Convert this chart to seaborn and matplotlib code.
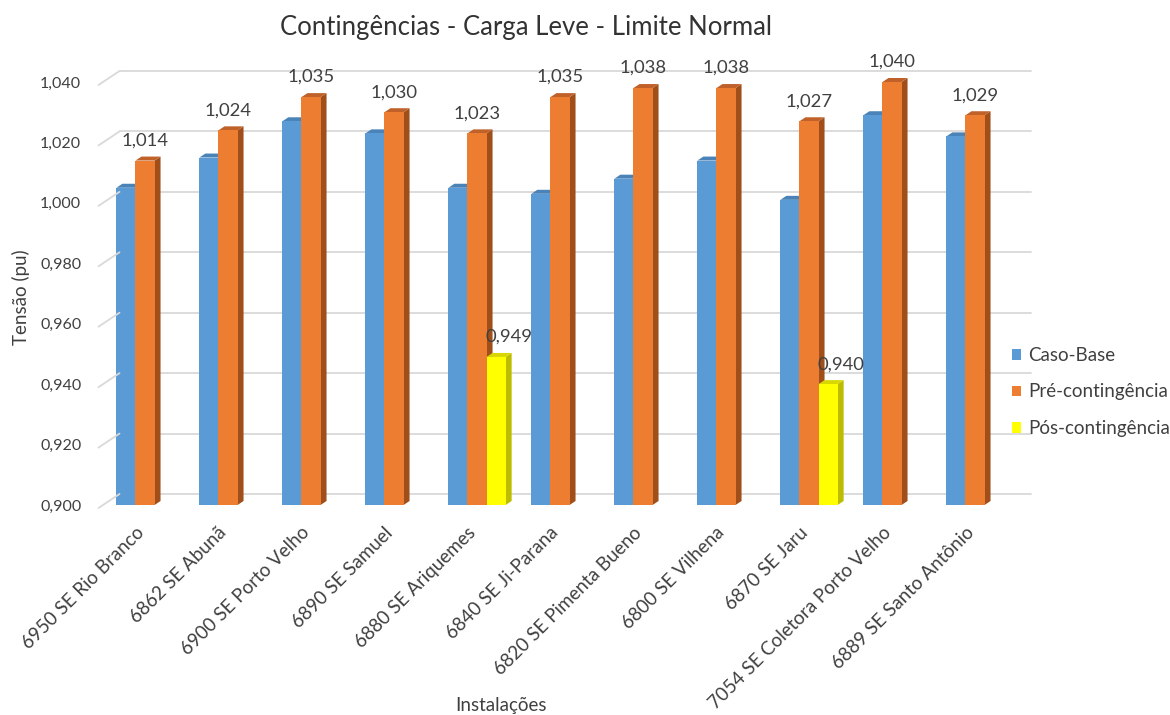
import matplotlib
matplotlib.use("Agg")
import matplotlib.pyplot as plt
from matplotlib.patches import Polygon
from matplotlib.transforms import offset_copy, ScaledTranslation
import seaborn as sns
import pandas as pd
import numpy as np

# Substations (x axis)
instalacoes = [
    "6950 SE Rio Branco", "6862 SE Abunã", "6900 SE Porto Velho",
    "6890 SE Samuel", "6880 SE Ariquemes", "6840 SE Ji-Parana",
    "6820 SE Pimenta Bueno", "6800 SE Vilhena", "6870 SE Jaru",
    "7054 SE Coletora Porto Velho", "6889 SE Santo Antônio",
]
# Voltage in pu for each case
caso_base = [1.005, 1.015, 1.027, 1.023, 1.005, 1.003, 1.008, 1.014, 1.001, 1.029, 1.022]
pre_cont = [1.014, 1.024, 1.035, 1.030, 1.023, 1.035, 1.038, 1.038, 1.027, 1.040, 1.029]
pos_cont = [None, None, None, None, 0.949, None, None, None, 0.940, None, None]

series = ["Caso-Base", "Pré-contingência", "Pós-contingência"]
y_ticks = [0.900, 0.920, 0.940, 0.960, 0.980, 1.000, 1.020, 1.040]

front_colors = ["#5B9BD5", "#ED7D31", "#FFFF00"]
side_colors = ["#41719C", "#A04F1A", "#BDBD00"]
top_colors = ["#4A83B8", "#C0612A", "#D8D800"]

rows = []
for name, a, b, c in zip(instalacoes, caso_base, pre_cont, pos_cont):
    rows.append((name, series[0], a))
    rows.append((name, series[1], b))
    rows.append((name, series[2], c if c is not None else np.nan))
df = pd.DataFrame(rows, columns=["Instalação", "Série", "Tensão"])

sns.set_theme(style="white")
plt.rcParams["font.family"] = ["Lato", "DejaVu Sans"]
text_color = "#404040"

W, H = 1170, 715
fig = plt.figure(figsize=(W / 100, H / 100), dpi=100)
ax = fig.add_axes([103.5 / W, 1 - 505 / H, 913 / W, (505 - 82) / H])

ymin, ymax = 0.900, 1.040

sns.barplot(data=df, x="Instalação", y="Tensão", hue="Série",
            hue_order=series, palette=front_colors, width=0.69,
            saturation=1.0, ax=ax, legend=True,
            edgecolor="none", linewidth=0)

ax.set_ylim(ymin, ymax)
ax.set_xlim(-0.5, len(instalacoes) - 0.5)

# pixel -> data conversions for the depth faces
px_x = len(instalacoes) / 913
px_y = (ymax - ymin) / (505 - 82)
dx, dy = 6 * px_x, 4 * px_y

for k, container in enumerate(ax.containers):
    for rect in container.patches:
        h = rect.get_height()
        if not np.isfinite(h) or h <= 0:
            continue
        x0 = rect.get_x()
        x1 = x0 + rect.get_width()
        y0 = ymin
        y1 = rect.get_y() + h
        z = 2 + k
        rect.set_zorder(z + 0.5)
        side = Polygon([(x1, y0), (x1, y1), (x1 + dx, y1 + dy), (x1 + dx, y0 + dy)],
                       closed=True, facecolor=side_colors[k], edgecolor="none",
                       zorder=z, clip_on=False)
        top = Polygon([(x0, y1), (x1, y1), (x1 + dx, y1 + dy), (x0 + dx, y1 + dy)],
                      closed=True, facecolor=top_colors[k], edgecolor="none",
                      zorder=z, clip_on=False)
        ax.add_patch(side)
        ax.add_patch(top)

# value labels on the contingency series
label_shift = {1: 0, 2: 13}
for k in (1, 2):
    for rect in ax.containers[k].patches:
        h = rect.get_height()
        if not np.isfinite(h) or h <= 0:
            continue
        v = rect.get_y() + h
        ax.text(rect.get_x() + rect.get_width() / 2 + label_shift[k] * px_x,
                v + 12 * px_y, f"{v:.3f}".replace(".", ","),
                ha="center", va="bottom", fontsize=13.3, color=text_color,
                zorder=10, clip_on=False)

# back-wall gridlines shifted by the chart depth, with floor diagonals
gx, gy = 16, 11
grid_trans = offset_copy(ax.get_yaxis_transform(), fig=fig, x=gx, y=gy, units="dots")
inv = fig.transFigure.inverted()
for t in y_ticks:
    ax.plot([0, 0.998], [t, t], transform=grid_trans, color="#D9D9D9",
            lw=1.3, zorder=0.5, clip_on=False)
    p0 = ax.get_yaxis_transform().transform((0, t)) + np.array([-5, -3])
    p1 = p0 + np.array([gx + 5, gy + 3])
    f0, f1 = inv.transform(p0), inv.transform(p1)
    fig.add_artist(plt.Line2D([f0[0], f1[0]], [f0[1], f1[1]], color="#D9D9D9", lw=1.3))

for s in ax.spines.values():
    s.set_visible(False)
ax.grid(False)

ax.set_yticks(y_ticks)
ax.set_yticklabels([f"{t:.3f}".replace(".", ",") for t in y_ticks],
                   fontsize=11.5, color=text_color)
ytick_shift = ScaledTranslation(0, -3 / 100, fig.dpi_scale_trans)
for lab in ax.get_yticklabels():
    lab.set_transform(lab.get_transform() + ytick_shift)
ax.tick_params(axis="y", length=0, pad=16)
ax.tick_params(axis="x", length=0, pad=18)
ax.set_xticks(range(len(instalacoes)))
ax.set_xticklabels(instalacoes, rotation=45, ha="right", va="center",
                   rotation_mode="anchor", fontsize=13.5, color=text_color)
shift = ScaledTranslation(-4 / 100, 0, fig.dpi_scale_trans)
for lab in ax.get_xticklabels():
    lab.set_transform(lab.get_transform() + shift)

ax.set_xlabel("")
ax.set_ylabel("")
fig.text(501 / W, 1 - 705 / H, "Instalações", ha="center", va="center",
         fontsize=13.5, color=text_color)
fig.text(21 / W, 1 - 297 / H, "Tensão (pu)", ha="center", va="center",
         rotation=90, fontsize=13.5, color=text_color)

fig.text(525.5 / W, 1 - 28 / H, "Contingências - Carga Leve - Limite Normal",
         ha="center", va="center", fontsize=18.5, color="#333333")

handles, labels = ax.get_legend_handles_labels()
ax.legend_.remove()
fig.legend(handles, labels, loc="center left",
           bbox_to_anchor=(1012 / W, 1 - 392 / H), bbox_transform=fig.transFigure,
           frameon=False, fontsize=13.5, handlelength=0.5, handleheight=0.5,
           handletextpad=0.35, labelspacing=1.05, labelcolor=text_color,
           borderpad=0, borderaxespad=0)

fig.savefig("out.png", dpi=100, facecolor="white")
